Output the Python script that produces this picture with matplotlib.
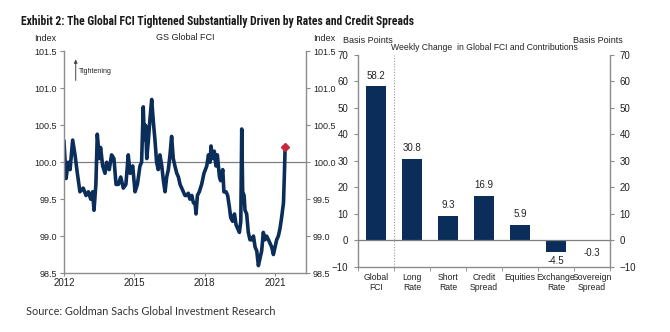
import matplotlib
matplotlib.use("Agg")
import matplotlib.pyplot as plt
from matplotlib import font_manager
from matplotlib.ticker import FixedLocator

# GS Global FCI (index)
fci_years = [2012.00, 2012.09, 2012.18, 2012.26, 2012.37, 2012.47, 2012.57, 2012.68,
             2012.82, 2012.94, 2013.04, 2013.14, 2013.22, 2013.28, 2013.36, 2013.42,
             2013.51, 2013.56, 2013.65, 2013.75, 2013.82, 2013.93, 2014.03, 2014.13,
             2014.22, 2014.32, 2014.42, 2014.53, 2014.64, 2014.74, 2014.82, 2014.93,
             2015.03, 2015.13, 2015.24, 2015.31, 2015.38, 2015.43, 2015.48, 2015.53,
             2015.60, 2015.67, 2015.74, 2015.81, 2015.88, 2015.95, 2016.02, 2016.09,
             2016.17, 2016.24, 2016.31, 2016.38, 2016.45, 2016.52, 2016.59, 2016.66,
             2016.73, 2016.81, 2016.88, 2016.95, 2017.02, 2017.09, 2017.16, 2017.23,
             2017.30, 2017.37, 2017.45, 2017.52, 2017.59, 2017.63, 2017.69, 2017.77,
             2017.87, 2017.97, 2018.09, 2018.16, 2018.23, 2018.27, 2018.34, 2018.41,
             2018.48, 2018.54, 2018.63, 2018.68, 2018.77, 2018.82, 2018.91, 2018.98,
             2019.05, 2019.11, 2019.19, 2019.27, 2019.34, 2019.41, 2019.48, 2019.54,
             2019.58, 2019.62, 2019.68, 2019.72, 2019.79, 2019.86, 2019.93, 2020.01,
             2020.08, 2020.15, 2020.22, 2020.29, 2020.36, 2020.43, 2020.50, 2020.57,
             2020.64, 2020.72, 2020.79, 2020.86, 2020.93, 2021.00, 2021.07, 2021.14,
             2021.21, 2021.28, 2021.36, 2021.40, 2021.43]
fci_values = [100.28, 99.78, 100.00, 99.90, 100.30, 100.10, 99.85, 99.60,
              99.65, 99.55, 99.60, 99.50, 99.60, 99.35, 99.70, 100.38,
              100.05, 100.20, 99.95, 99.85, 100.00, 99.90, 100.10, 100.05,
              99.70, 99.70, 99.80, 99.65, 99.70, 100.10, 99.85, 99.95,
              99.60, 99.70, 99.95, 100.00, 100.75, 100.30, 100.50, 100.05,
              100.30, 100.60, 100.85, 100.55, 100.30, 100.00, 99.90, 100.10,
              99.95, 99.75, 99.60, 99.80, 99.90, 100.10, 100.35, 100.05,
              99.95, 99.85, 99.80, 99.70, 99.65, 99.60, 99.55, 99.55,
              99.58, 99.50, 99.55, 99.45, 99.45, 99.30, 99.55, 99.60,
              99.70, 99.85, 99.95, 100.10, 100.00, 100.22, 100.05, 100.15,
              99.95, 100.10, 99.80, 99.75, 99.90, 99.60, 99.60, 99.55,
              99.40, 99.25, 99.20, 99.30, 99.15, 99.10, 99.05, 99.20,
              100.45, 99.60, 99.55, 99.35, 99.30, 99.05, 98.95, 98.95,
              99.00, 98.85, 98.80, 98.60, 98.70, 98.80, 99.05, 98.95,
              99.00, 98.95, 98.90, 98.85, 98.75, 98.85, 98.95, 99.00,
              99.10, 99.25, 99.45, 99.85, 100.20]

# weekly change in Global FCI and contributions (bp)
categories = ["Global\nFCI", "Long\nRate", "Short\nRate", "Credit\nSpread",
              "Equities", "Exchange\nRate", "Sovereign\nSpread"]
changes = [58.2, 30.8, 9.3, 16.9, 5.9, -4.5, -0.3]

navy = "#0b2d5a"
grey = "#8c8c8c"
txt = "#222222"


def first_font(names, fallback):
    for n in names:
        try:
            font_manager.findfont(font_manager.FontProperties(family=n), fallback_to_default=False)
            return n
        except Exception:
            pass
    return fallback


title_font = first_font(["Liberation Sans Narrow", "DejaVu Sans Condensed", "Roboto Condensed"], "Roboto")

plt.rcParams["font.family"] = ["Liberation Sans", "DejaVu Sans"]
plt.rcParams["font.size"] = 6.5

fig = plt.figure(figsize=(6.7, 3.32), dpi=100)

title = fig.text(0.031, 0.925,
                 "Exhibit 2: The Global FCI Tightened Substantially Driven by Rates and Credit Spreads",
                 fontsize=10, fontweight="bold", color="#1a1a1a",
                 family=[title_font, "DejaVu Sans"], va="baseline")
# fit title to the width it takes in the original (~397 px)
fig.canvas.draw()
w = title.get_window_extent().width
title.set_fontsize(10 * 397.0 / w)

fig.text(0.039, 0.062, "Source: Goldman Sachs Global Investment Research",
         fontsize=7.8, color="#333333", family=["Lato", "DejaVu Sans"], va="center")

# ---- left panel: FCI level
ax1 = fig.add_axes([0.0955, 0.1777, 0.3612, 0.6672])
ax1.axhline(100.0, color="#7f7f7f", lw=0.9, zorder=1)
ax1.plot(fci_years, fci_values, color=navy, lw=2.6, zorder=2)
ax1.plot(fci_years[-1], fci_values[-1], marker="D", ms=4, color="#c8283c", zorder=3)
ax1.set_xlim(2012.0, 2022.32)
ax1.set_ylim(98.5, 101.5)
ax1.set_yticks([98.5, 99.0, 99.5, 100.0, 100.5, 101.0, 101.5])
ax1.set_yticklabels(["98.5", "99.0", "99.5", "100.0", "100.5", "101.0", "101.5"])
ax1.set_xticks([2012, 2015, 2018, 2021])
ax1.set_xticklabels(["2012", "2015", "2018", "2021"], fontsize=7)
ax1.yaxis.set_ticks_position("both")
ax1.tick_params(axis="y", direction="out", length=3, color=grey, labelcolor=txt,
                labelright=True, pad=2)
ax1.tick_params(axis="x", direction="out", length=2, color=grey, labelcolor=txt, pad=1.5)
ax1.spines["top"].set_visible(False)
for s in ["left", "right", "bottom"]:
    ax1.spines[s].set_color(grey)
    ax1.spines[s].set_linewidth(1.0)
ax1.set_title("GS Global FCI", fontsize=6.5, color=txt, pad=8)
ax1.text(-0.03, 1.04, "Index", transform=ax1.transAxes, ha="right", va="bottom", color=txt)
ax1.text(1.03, 1.04, "Index", transform=ax1.transAxes, ha="left", va="bottom", color=txt)
ax1.annotate("", xy=(2012.5, 101.43), xytext=(2012.5, 101.07),
             arrowprops=dict(arrowstyle="-|>", color="#444444", lw=0.7, mutation_scale=5))
ax1.text(2012.62, 101.23, "Tightening", fontsize=5, color=txt, va="center")

# ---- right panel: weekly change
ax2 = fig.add_axes([0.5343, 0.1958, 0.3761, 0.64])
xpos = list(range(len(categories)))
ax2.bar(xpos, changes, width=0.53, color=navy, zorder=2)
ax2.axhline(0, color="#7f7f7f", lw=0.9, zorder=3)
ax2.axvline(0.5, color="#9a9a9a", lw=0.8, ls=(0, (1, 1.5)), zorder=1)
for x, v in zip(xpos, changes):
    if v >= 0:
        ax2.text(x, v + 2.0, f"{v:.1f}", ha="center", va="bottom", fontsize=7, color=txt)
    else:
        ax2.text(x, min(v, -1.5) - 1.5, f"{v:.1f}", ha="center", va="top", fontsize=7, color=txt)
ax2.set_xlim(-0.5, 6.5)
ax2.set_ylim(-10, 70)
ax2.set_yticks(range(-10, 71, 10))
ax2.set_xticks(xpos)
ax2.set_xticklabels(categories, fontsize=6.2, linespacing=1.15)
ax2.xaxis.set_minor_locator(FixedLocator([k + 0.5 for k in range(-1, 7)]))
ax2.tick_params(axis="x", which="major", length=0, pad=4, labelcolor=txt)
ax2.tick_params(axis="x", which="minor", length=3, direction="out", color=grey)
ax2.yaxis.set_ticks_position("both")
ax2.tick_params(axis="y", direction="out", length=3, color=grey, labelcolor=txt,
                labelright=True, pad=4, labelsize=7)
ax2.spines["top"].set_visible(False)
for s in ["left", "right", "bottom"]:
    ax2.spines[s].set_color(grey)
    ax2.spines[s].set_linewidth(1.0)
ax2.set_title("Weekly Change  in Global FCI and Contributions", fontsize=6.2, color=txt, pad=3)
ax2.text(-0.06, 1.045, "Basis Points", transform=ax2.transAxes, ha="left", va="bottom", color=txt)
ax2.text(1.05, 1.045, "Basis Points", transform=ax2.transAxes, ha="right", va="bottom", color=txt)

fig.savefig("out.png", dpi=100)
